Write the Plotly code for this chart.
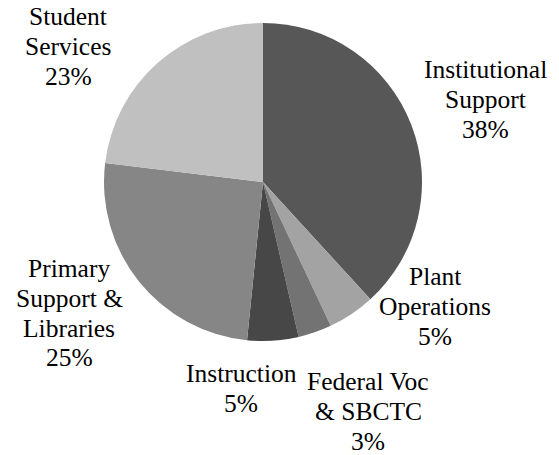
import plotly.graph_objects as go

labels = ["Institutional<br>Support", "Plant<br>Operations", "Federal Voc<br>& SBCTC",
          "Instruction", "Primary<br>Support &<br>Libraries", "Student<br>Services"]
values = [38.2, 4.8, 3.4, 5.2, 25.3, 23.1]
colors = ["#575757", "#a3a3a3", "#737373", "#474747", "#868686", "#c0c0c0"]

# label placement in pixels (centre x, first-line baseline y)
label_pos = [(485, 78), (435, 285), (368, 390), (241, 382), (69, 277), (68, 25)]

W, H = 559, 455
FS = 25.5
LS = 29.8
CX, CY, R = 263, 182, 159
SERIF = "Liberation Serif, Times New Roman, Times, serif"

fig = go.Figure(go.Pie(
    labels=labels, values=values, sort=False, direction="clockwise", rotation=0,
    marker=dict(colors=colors, line=dict(width=0)),
    textinfo="none", hoverinfo="label+percent", showlegend=False,
    domain=dict(x=[(CX - R) / W, (CX + R) / W],
                y=[(H - CY - R) / H, (H - CY + R) / H]),
))

total = sum(values)
annotations = []
for lab, v, (cx, by) in zip(labels, values, label_pos):
    lines = lab.split("<br>") + [f"{round(v / total * 100)}%"]
    for i, ln in enumerate(lines):
        yb = by + i * LS
        ymid = yb - 0.33 * FS
        annotations.append(dict(
            x=cx / W, y=1 - ymid / H, xref="paper", yref="paper",
            text=ln, showarrow=False, xanchor="center", yanchor="middle",
            borderpad=0,
            font=dict(family=SERIF, size=FS, color="#000000"),
        ))

fig.update_layout(
    width=W, height=H, margin=dict(l=0, r=0, t=0, b=0),
    paper_bgcolor="white", plot_bgcolor="white",
    font=dict(family=SERIF),
    annotations=annotations,
)
fig.write_html("out.html", config={"displayModeBar": False},
               post_script="document.body.style.margin='0';document.body.style.padding='0';")
